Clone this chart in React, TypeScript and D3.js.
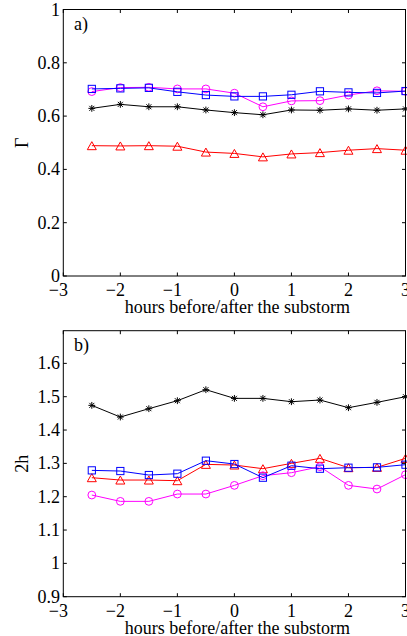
import React from "react";
import * as d3 from "d3";

const hours = [-2.5, -2, -1.5, -1, -0.5, 0, 0.5, 1, 1.5, 2, 2.5, 3];

const gammaBlack = [0.629, 0.644, 0.635, 0.635, 0.623, 0.613, 0.605, 0.623, 0.622, 0.627, 0.622, 0.627];
const gammaRed = [0.489, 0.488, 0.489, 0.487, 0.465, 0.46, 0.447, 0.458, 0.463, 0.472, 0.478, 0.472];
const gammaMagenta = [0.692, 0.707, 0.708, 0.702, 0.702, 0.686, 0.635, 0.657, 0.658, 0.679, 0.695, 0.693];
const gammaBlue = [0.702, 0.704, 0.706, 0.691, 0.679, 0.674, 0.674, 0.68, 0.693, 0.689, 0.687, 0.694];

const hBlack = [1.474, 1.439, 1.464, 1.488, 1.521, 1.495, 1.495, 1.485, 1.49, 1.467, 1.483, 1.5];
const hRed = [1.257, 1.25, 1.25, 1.248, 1.297, 1.295, 1.284, 1.3, 1.315, 1.287, 1.288, 1.315];
const hMagenta = [1.205, 1.186, 1.186, 1.208, 1.208, 1.234, 1.263, 1.272, 1.29, 1.234, 1.223, 1.266];
const hBlue = [1.279, 1.277, 1.265, 1.269, 1.308, 1.298, 1.257, 1.293, 1.284, 1.287, 1.288, 1.296];

const xTicks = [-3, -2, -1, 0, 1, 2, 3];
const gammaTicks = [0, 0.2, 0.4, 0.6, 0.8, 1];
const hTicks = [0.9, 1, 1.1, 1.2, 1.3, 1.4, 1.5, 1.6];

const xLabel = "hours before/after the substorm";
const FONT = "'Liberation Serif', 'Times New Roman', serif";

type Series = { values: number[]; color: string; marker: "star" | "tri" | "circle" | "square" };

function Marker({ kind, x, y, color }: { kind: string; x: number; y: number; color: string }) {
  if (kind === "square") {
    const s = 3.6;
    return <rect x={x - s} y={y - s} width={2 * s} height={2 * s} fill="none" stroke={color} strokeWidth={1} />;
  }
  if (kind === "circle") {
    return <circle cx={x} cy={y} r={3.9} fill="none" stroke={color} strokeWidth={1} />;
  }
  if (kind === "tri") {
    const w = 4.5, h = 4;
    return (
      <path
        d={`M${x},${y - h} L${x + w},${y + h} L${x - w},${y + h} Z`}
        fill="none"
        stroke={color}
        strokeWidth={1}
      />
    );
  }
  const s = 3.4, d = 2.5;
  return (
    <path
      d={`M${x - s},${y}H${x + s}M${x},${y - s}V${y + s}M${x - d},${y - d}L${x + d},${y + d}M${x - d},${y + d}L${x + d},${y - d}`}
      stroke={color}
      strokeWidth={1}
      fill="none"
    />
  );
}

function Panel({
  top,
  bottom,
  yDomain,
  yTicks,
  series,
  tag,
  yTitle,
  fmt,
}: {
  top: number;
  bottom: number;
  yDomain: [number, number];
  yTicks: number[];
  series: Series[];
  tag: string;
  yTitle: string;
  fmt: (v: number) => string;
}) {
  const left = 63.3, right = 405.5;
  const x = d3.scaleLinear().domain([-3, 3]).range([left, right]);
  const y = d3.scaleLinear().domain(yDomain).range([bottom, top]);
  const line = d3
    .line<[number, number]>()
    .x((d) => x(d[0]))
    .y((d) => y(d[1]));
  const tl = 3.5;
  return (
    <g>
      {series.map((s, i) => {
        const pts = hours.map((h, j) => [h, s.values[j]] as [number, number]);
        return (
          <g key={i}>
            <path d={line(pts) || ""} fill="none" stroke={s.color} strokeWidth={1} />
            {pts.map((p, j) => (
              <Marker key={j} kind={s.marker} x={x(p[0])} y={y(p[1])} color={s.color} />
            ))}
          </g>
        );
      })}
      <rect x={left} y={top} width={right - left} height={bottom - top} fill="none" stroke="#000" strokeWidth={1} />
      {xTicks.map((t) => (
        <g key={"x" + t}>
          <line x1={x(t)} x2={x(t)} y1={bottom} y2={bottom - tl} stroke="#000" />
          <line x1={x(t)} x2={x(t)} y1={top} y2={top + tl} stroke="#000" />
          <text x={x(t) + 4.6} y={bottom + 20} textAnchor="end" fontSize={18} fontFamily={FONT}>
            {t < 0 ? "\u2212" + Math.abs(t) : String(t)}
          </text>
        </g>
      ))}
      {yTicks.map((t) => (
        <g key={"y" + t}>
          <line x1={left} x2={left + tl} y1={y(t)} y2={y(t)} stroke="#000" />
          <line x1={right} x2={right - tl} y1={y(t)} y2={y(t)} stroke="#000" />
          <text x={60} y={y(t) + 6} textAnchor="end" fontSize={18} fontFamily={FONT}>
            {fmt(t)}
          </text>
        </g>
      ))}
      <text x={(left + right) / 2 + 3} y={bottom + 37} textAnchor="middle" fontSize={18} fontFamily={FONT}>
        {xLabel}
      </text>
      <text
        transform={`translate(28,${(top + bottom) / 2}) rotate(-90)`}
        textAnchor="middle"
        fontSize={18}
        fontFamily={FONT}
      >
        {yTitle}
      </text>
      <text x={74} y={top + 20} fontSize={18} fontFamily={FONT}>
        {tag}
      </text>
    </g>
  );
}

export default function App() {
  const seriesA: Series[] = [
    { values: gammaBlack, color: "#000000", marker: "star" },
    { values: gammaRed, color: "#ff0000", marker: "tri" },
    { values: gammaMagenta, color: "#ff00ff", marker: "circle" },
    { values: gammaBlue, color: "#0000ff", marker: "square" },
  ];
  const seriesB: Series[] = [
    { values: hBlack, color: "#000000", marker: "star" },
    { values: hRed, color: "#ff0000", marker: "tri" },
    { values: hMagenta, color: "#ff00ff", marker: "circle" },
    { values: hBlue, color: "#0000ff", marker: "square" },
  ];
  return (
    <svg
      width={407}
      height={636}
      style={{ position: "absolute", left: 0, top: 0, background: "#fff" }}
    >
      <rect width={407} height={636} fill="#fff" />
      <Panel
        top={9.5}
        bottom={276}
        yDomain={[0, 1]}
        yTicks={gammaTicks}
        series={seriesA}
        tag="a)"
        yTitle={"\u0393"}
        fmt={(v) => String(+v.toFixed(1))}
      />
      <Panel
        top={330.7}
        bottom={596.7}
        yDomain={[0.9, 1.698]}
        yTicks={hTicks}
        series={seriesB}
        tag="b)"
        yTitle="2h"
        fmt={(v) => String(+v.toFixed(1))}
      />
    </svg>
  );
}
